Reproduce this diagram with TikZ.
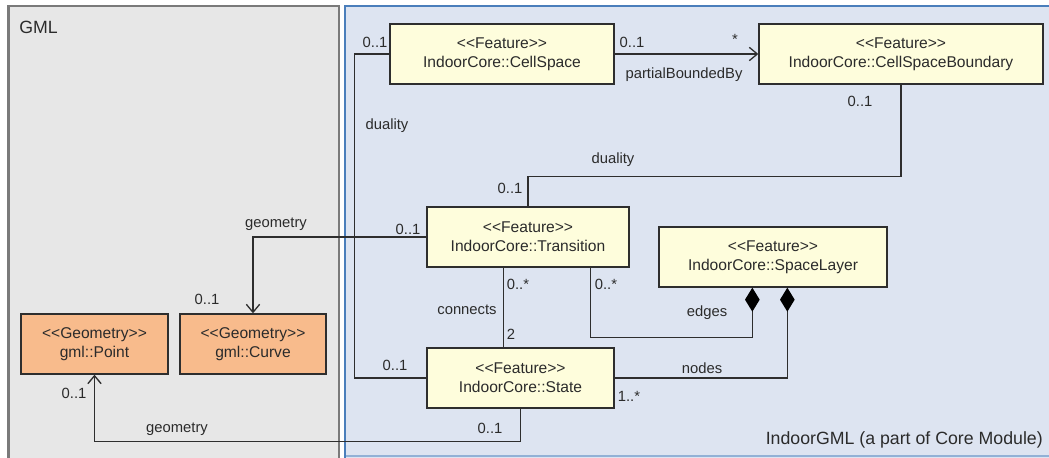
\documentclass[tikz,border=0pt]{standalone}
\usepackage{fontspec}
\setmainfont{Liberation Sans}
\usetikzlibrary{arrows.meta,calc}
\definecolor{txt}{HTML}{2B2B2B}
\definecolor{ln}{HTML}{2E2E2E}
\definecolor{featfill}{HTML}{FEFDDC}
\definecolor{geofill}{HTML}{F8BB8C}
\definecolor{gmlfill}{HTML}{E7E7E7}
\definecolor{gmlborder}{HTML}{7A7A7A}
\definecolor{indfill}{HTML}{DDE4F1}
\definecolor{indborder}{HTML}{4A7EBB}
\newcommand{\stereo}[1]{{<}{<}#1{>}{>}}
\tikzset{
  umlbox/.style={draw=ln, line width=1pt, text=txt, align=center, inner sep=0pt,
    minimum height=45pt, font=\fontsize{11.7}{14.25}\selectfont},
  feat/.style={umlbox, fill=featfill},
  geo/.style={umlbox, fill=geofill},
  conn/.style={draw=ln, line width=1pt},
  assoc/.style={conn, -{Straight Barb[length=6pt,width=10pt,line width=1pt]}},
  comp/.style={conn, -{Diamond[length=18pt,width=11pt,color=black,fill=black]}},
  lbl/.style={text=txt, font=\fontsize{11.1}{13}\selectfont, inner sep=0pt},
  paneltitle/.style={text=txt, font=\fontsize{13.3}{16}\selectfont, inner sep=0pt}
}
\begin{document}
\begin{tikzpicture}[x=0.75pt,y=-0.75pt]
\useasboundingbox (0,0) rectangle (1049,457);
% panels
\fill[white] (0,0) rectangle (1049,457);
\draw[fill=gmlfill, draw=gmlborder, line width=2.2pt] (8.5,6) rectangle (339,470);
\draw[fill=indfill, draw=indborder, line width=2.2pt] (345,6) rectangle (1060,470);
\draw[indborder!60, line width=0.8pt] (346,456) -- (1049,456);
\node[paneltitle, anchor=west] (gmltitle) at (19,27) {GML};
\node[paneltitle, anchor=east] (indtitle) at (1043,440) {IndoorGML (a part of Core Module)};
% classes
\node[feat, minimum width=168pt] (CS) at (502,54) {\stereo{Feature}\\IndoorCore::CellSpace};
\node[feat, minimum width=213pt] (CSB) at (901,54) {\stereo{Feature}\\IndoorCore::CellSpaceBoundary};
\node[feat, minimum width=151.5pt] (T) at (528,237) {\stereo{Feature}\\IndoorCore::Transition};
\node[feat, minimum width=140.25pt] (S) at (520.5,378) {\stereo{Feature}\\IndoorCore::State};
\node[feat, minimum width=171pt] (SL) at (773,257) {\stereo{Feature}\\IndoorCore::SpaceLayer};
\node[geo, minimum width=110.25pt] (P) at (94.5,344) {\stereo{Geometry}\\gml::Point};
\node[geo, minimum width=109.5pt] (C) at (253,344) {\stereo{Geometry}\\gml::Curve};
% connectors
\draw[conn] (CS.west) -- ++(-35,0) |- (S.west);
\draw[assoc] (CS.east) -- (CSB.west);
\draw[conn] (CSB.south) -- ++(0,92) -| (T.north);
\draw[assoc] (T.west) -| (C.north);
\draw[conn] ($(T.south west)+(77,0)$) -- ($(S.north west)+(77,0)$);
\draw[comp] ($(T.south west)+(164,0)$) |- ($(SL.south west)+(94,50)$) -- ($(SL.south west)+(94,0)$);
\draw[comp] (S.east) -| ($(SL.south west)+(129,0)$);
\draw[assoc] (S.south) -- ++(0,33) -| (P.south);
% labels
\node[lbl] (l1) at (375,42) {0..1};
\node[lbl] (l2) at (387,126) {duality};
\node[lbl] (l3) at (632,42) {0..1};
\node[lbl] (l4) at (735,39) {*};
\node[lbl] (l5) at (684,75) {partialBoundedBy};
\node[lbl] (l6) at (860,101) {0..1};
\node[lbl] (l7) at (613,160) {duality};
\node[lbl] (l8) at (510,188) {0..1};
\node[lbl] (l9) at (276,224) {geometry};
\node[lbl] (l10) at (408,229) {0..1};
\node[lbl] (l11) at (207,299) {0..1};
\node[lbl] (l12) at (518,284) {0..*};
\node[lbl] (l13) at (467,310) {connects};
\node[lbl] (l14) at (511,334) {2};
\node[lbl] (l15) at (606,284) {0..*};
\node[lbl] (l16) at (707,313) {edges};
\node[lbl] (l17) at (702,368) {nodes};
\node[lbl] (l18) at (629,396) {1..*};
\node[lbl] (l19) at (395,365) {0..1};
\node[lbl] (l20) at (490,428) {0..1};
\node[lbl] (l21) at (177,429) {geometry};
\node[lbl] (l22) at (74,393) {0..1};
\end{tikzpicture}
\end{document}
